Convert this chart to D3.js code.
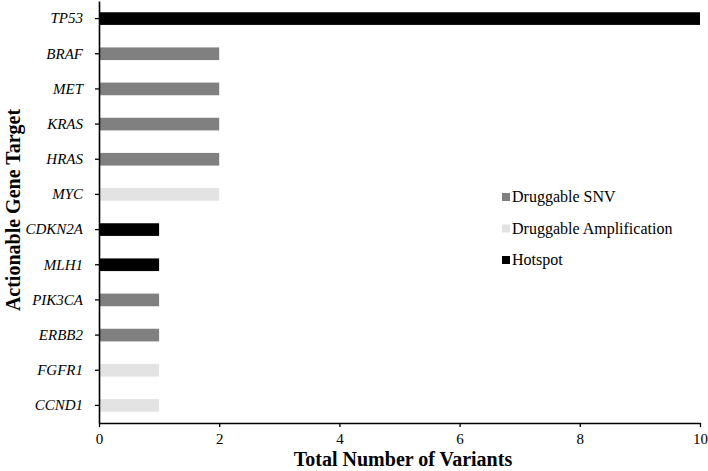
<!DOCTYPE html>
<html>
<head>
<meta charset="utf-8">
<script src="https://cdn.jsdelivr.net/npm/d3@7"></script>
<style>
body{margin:0;background:#fff;}
svg text{font-family:"Liberation Serif","Times New Roman",serif;fill:#000;}
</style>
</head>
<body>
<svg id="chart" width="708" height="471"></svg>
<script>
// gene targets, top to bottom
var genes = ["TP53","BRAF","MET","KRAS","HRAS","MYC","CDKN2A","MLH1","PIK3CA","ERBB2","FGFR1","CCND1"];
var counts = [10,2,2,2,2,2,1,1,1,1,1,1];
var kinds = ["Hotspot","Druggable SNV","Druggable SNV","Druggable SNV","Druggable SNV","Druggable Amplification",
	"Hotspot","Hotspot","Druggable SNV","Druggable SNV","Druggable Amplification","Druggable Amplification"];
var legendKeys = ["Druggable SNV","Druggable Amplification","Hotspot"];
var xTicks = [0,2,4,6,8,10];

var svg = d3.select("#chart");
var plotL = 99, plotR = 700, plotT = 1, plotB = 423;
var serif = "'Liberation Serif','Times New Roman',serif";

var x = d3.scaleLinear().domain([0,10]).range([plotL,plotR]);
var y = d3.scaleBand().domain(genes).range([plotT,plotB]).paddingInner(0.64).paddingOuter(0.32);
var color = d3.scaleOrdinal().domain(legendKeys).range(["#808080","#e3e3e3","#000000"]);

var rows = genes.map(function(g,i){ return {gene:g, value:counts[i], kind:kinds[i]}; });

svg.append("g").selectAll("rect").data(rows).enter().append("rect")
	.attr("x", x(0))
	.attr("y", function(d){ return y(d.gene); })
	.attr("width", function(d){ return x(d.value) - x(0); })
	.attr("height", y.bandwidth())
	.attr("fill", function(d){ return color(d.kind); });

// x axis
var xAxis = svg.append("g").attr("transform","translate(0,"+plotB+")")
	.call(d3.axisBottom(x).tickValues(xTicks).tickSize(4).tickSizeOuter(0));
xAxis.attr("font-family", serif).attr("font-size", 15);
xAxis.select(".domain").attr("stroke","#000").attr("stroke-width",1.6);
xAxis.selectAll(".tick line").attr("stroke","#000").attr("stroke-width",1.3);
xAxis.selectAll(".tick text").attr("dy","0.95em");

// y axis
var yAxis = svg.append("g").attr("transform","translate("+plotL+",0)")
	.call(d3.axisLeft(y).tickSize(4).tickSizeOuter(0).tickPadding(12));
yAxis.attr("font-family", serif).attr("font-size", 15);
yAxis.select(".domain").attr("stroke","#000").attr("stroke-width",1.6);
yAxis.selectAll(".tick line").attr("stroke","#000").attr("stroke-width",1.3);
yAxis.selectAll(".tick text").attr("font-style","italic");

// axis titles
svg.append("text").attr("x",403).attr("y",466)
	.attr("text-anchor","middle").attr("font-size",20).attr("font-weight","bold")
	.text("Total Number of Variants");
svg.append("text").attr("transform","translate(20,210) rotate(-90)")
	.attr("text-anchor","middle").attr("font-size",20).attr("font-weight","bold")
	.text("Actionable Gene Target");

// legend
var lg = svg.append("g").attr("transform","translate(502,197)");
var item = lg.selectAll("g").data(legendKeys).enter().append("g")
	.attr("transform", function(d,i){ return "translate(0,"+(i*31.5)+")"; });
item.append("rect").attr("x",0).attr("y",-4).attr("width",8).attr("height",8)
	.attr("fill", function(d){ return color(d); });
item.append("text").attr("x",10).attr("y",5).attr("font-size",16).text(function(d){ return d; });
</script>
</body>
</html>
